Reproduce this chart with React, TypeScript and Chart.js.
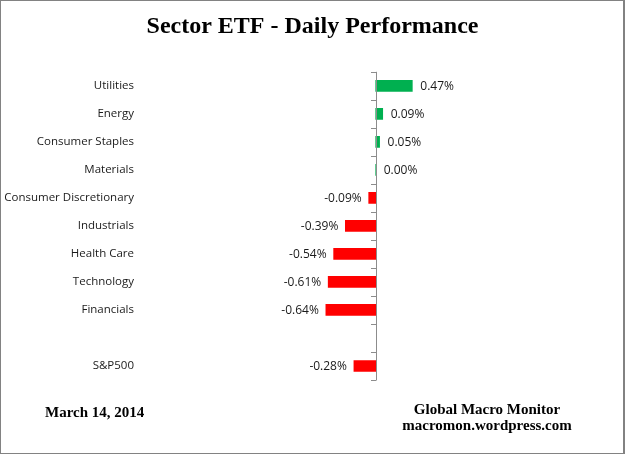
import React, { useEffect, useRef } from 'react';
import { Chart, registerables } from 'chart.js';

Chart.register(...registerables);

const sectors = [
  'Utilities',
  'Energy',
  'Consumer Staples',
  'Materials',
  'Consumer Discretionary',
  'Industrials',
  'Health Care',
  'Technology',
  'Financials',
  '',
  'S&P500',
];
const dailyChange = [0.47, 0.09, 0.05, 0.0, -0.09, -0.39, -0.54, -0.61, -0.64, null, -0.28];

const GREEN = '#00B050';
const RED = '#FF0000';
const AXIS_GREY = '#8C8C8C';

// zero line + little ticks between categories, like the Excel original
const zeroAxisPlugin = {
  id: 'zeroAxis',
  afterDatasetsDraw(chart: any) {
    const { ctx, scales } = chart;
    const x0 = Math.round(scales.x.getPixelForValue(0));
    const y = scales.y;
    const step = (y.bottom - y.top) / sectors.length;
    ctx.save();
    ctx.strokeStyle = AXIS_GREY;
    ctx.lineWidth = 1;
    ctx.beginPath();
    ctx.moveTo(x0 + 0.5, y.top);
    ctx.lineTo(x0 + 0.5, y.bottom);
    for (let i = 0; i <= sectors.length; i++) {
      const ty = Math.round(y.top + i * step) + 0.5;
      ctx.moveTo(x0 - 5, ty);
      ctx.lineTo(x0 + 0.5, ty);
    }
    ctx.stroke();
    ctx.restore();
  },
};

const valueLabelPlugin = {
  id: 'valueLabels',
  afterDatasetsDraw(chart: any) {
    const { ctx } = chart;
    const meta = chart.getDatasetMeta(0);
    ctx.save();
    ctx.font = '12px "Open Sans", sans-serif';
    ctx.fillStyle = '#1a1a1a';
    ctx.textBaseline = 'middle';
    meta.data.forEach((bar: any, i: number) => {
      const v = dailyChange[i];
      if (v === null || v === undefined) return;
      const text = v.toFixed(2) + '%';
      if (v < 0) {
        ctx.textAlign = 'right';
        ctx.fillText(text, bar.x - 7, bar.y + 1);
      } else {
        ctx.textAlign = 'left';
        ctx.fillText(text, bar.x + 8, bar.y + 1);
      }
    });
    ctx.restore();
  },
};

const App = () => {
  const chartRef = useRef<HTMLCanvasElement>(null);

  useEffect(() => {
    if (!chartRef.current) return;

    const myChart = new Chart(chartRef.current, {
      type: 'bar',
      data: {
        labels: sectors,
        datasets: [{
          label: 'Daily Performance',
          data: dailyChange,
          backgroundColor: dailyChange.map(v => ((v ?? 0) < 0 ? RED : GREEN)),
          barThickness: 11,
          borderWidth: 0,
        }]
      },
      options: {
        indexAxis: 'y',
        animation: false,
        responsive: false,
        layout: {
          padding: { left: 0, right: 0, top: 0, bottom: 75 }
        },
        scales: {
          x: {
            min: -3,
            max: 3.2,
            display: false,
            grid: { display: false },
          },
          y: {
            grid: { display: false },
            border: { display: false },
            afterFit: (axis: any) => { axis.width = 142; },
            ticks: {
              padding: 0,
              color: '#1a1a1a',
              autoSkip: false,
              font: { family: '"Open Sans", sans-serif', size: 11.5 },
            }
          }
        },
        plugins: {
          legend: { display: false },
          tooltip: { enabled: false },
          title: {
            display: true,
            text: 'Sector ETF - Daily Performance',
            color: '#000',
            font: { family: '"Liberation Serif", serif', size: 24, weight: 'bold' },
            padding: { top: 12, bottom: 31 },
          }
        }
      },
      plugins: [zeroAxisPlugin, valueLabelPlugin],
    });

    return () => {
      myChart.destroy();
    };
  }, []);

  const footer: React.CSSProperties = {
    position: 'absolute',
    fontFamily: '"Liberation Serif", serif',
    fontWeight: 'bold',
    fontSize: '15px',
    color: '#000',
    lineHeight: '16px',
  };

  return (
    <div style={{ position: 'absolute', left: 0, top: 0, width: 625, height: 455, background: '#fff' }}>
      <canvas ref={chartRef} width={625} height={455} style={{ display: 'block', width: 625, height: 455 }} />
      <div style={{ ...footer, left: 45, top: 404 }}>March 14, 2014</div>
      <div style={{ ...footer, left: 387, width: 200, top: 401, textAlign: 'center' }}>
        Global Macro Monitor<br />macromon.wordpress.com
      </div>
      <div style={{ position: 'absolute', left: 0, top: 0, width: 622, height: 452, border: '1px solid #828282', borderRightWidth: 2, pointerEvents: 'none' }} />
    </div>
  );
};

export default App;
